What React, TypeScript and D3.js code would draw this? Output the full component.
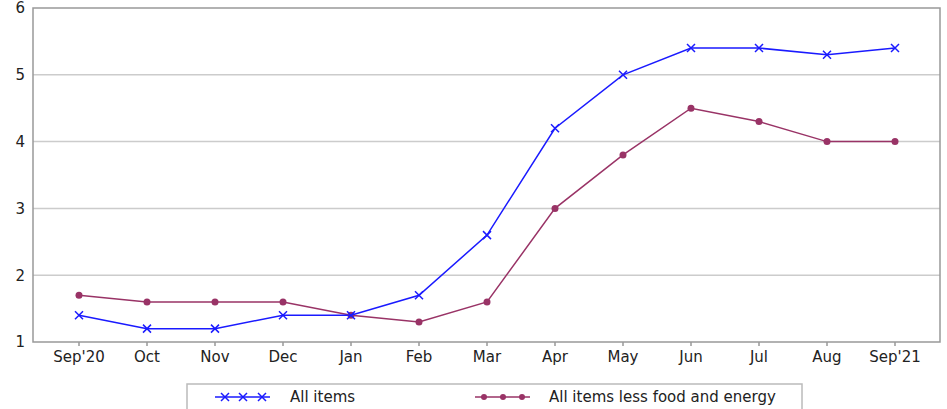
import { useEffect, useRef } from "react";
import { select, scaleLinear, scalePoint, line } from "d3";

const months = ["Sep'20", "Oct", "Nov", "Dec", "Jan", "Feb", "Mar", "Apr", "May", "Jun", "Jul", "Aug", "Sep'21"];
const allItems = [1.4, 1.2, 1.2, 1.4, 1.4, 1.7, 2.6, 4.2, 5.0, 5.4, 5.4, 5.3, 5.4];
const coreItems = [1.7, 1.6, 1.6, 1.6, 1.4, 1.3, 1.6, 3.0, 3.8, 4.5, 4.3, 4.0, 4.0];
const yTicks = [1, 2, 3, 4, 5, 6];

const BLUE = "#1a1aff";
const MAROON = "#993366";
const FONT = "'DejaVu Sans', Verdana, sans-serif";

const draw = (ref: SVGSVGElement) => {
  const svg = select(ref);
  svg.selectAll("*").remove();

  const m = { l: 33, r: 940, t: 8, b: 342 };
  const x = scalePoint<string>().domain(months).range([79, 895]);
  const y = scaleLinear().domain([1, 6]).range([m.b, m.t]);

  const g = svg.append("g").style("font-family", FONT);

  // grid
  g.selectAll("line.grid")
    .data(yTicks.filter((d) => d > 1 && d < 6))
    .join("line")
    .attr("x1", m.l)
    .attr("x2", m.r)
    .attr("y1", (d) => y(d))
    .attr("y2", (d) => y(d))
    .attr("stroke", "#cccccc")
    .attr("stroke-width", 1.5);

  // frame
  g.append("rect")
    .attr("x", m.l)
    .attr("y", m.t)
    .attr("width", m.r - m.l)
    .attr("height", m.b - m.t)
    .attr("fill", "none")
    .attr("stroke", "#999999")
    .attr("stroke-width", 1.5);

  // y labels
  g.selectAll("text.y")
    .data(yTicks)
    .join("text")
    .attr("x", 25)
    .attr("y", (d) => y(d))
    .attr("dy", "0.36em")
    .attr("text-anchor", "end")
    .attr("font-size", 15)
    .attr("fill", "#222")
    .text((d) => d);

  // x ticks
  g.selectAll("line.xt")
    .data(months)
    .join("line")
    .attr("x1", (d) => x(d)!)
    .attr("x2", (d) => x(d)!)
    .attr("y1", m.b)
    .attr("y2", m.b + 4)
    .attr("stroke", "#999999")
    .attr("stroke-width", 1.5);

  g.selectAll("text.x")
    .data(months)
    .join("text")
    .attr("x", (d) => x(d)!)
    .attr("y", 362)
    .attr("text-anchor", "middle")
    .attr("font-size", 15)
    .attr("fill", "#222")
    .text((d) => d);

  const mk = line<number>()
    .x((_, i) => x(months[i])!)
    .y((d) => y(d));

  const cross = (sel: any, cx: (d: any, i: number) => number, cy: (d: any, i: number) => number, s = 4) => {
    sel
      .append("path")
      .attr("d", (d: any, i: number) => {
        const px = cx(d, i);
        const py = cy(d, i);
        return `M${px - s},${py - s}L${px + s},${py + s}M${px - s},${py + s}L${px + s},${py - s}`;
      })
      .attr("stroke", BLUE)
      .attr("stroke-width", 1.5)
      .attr("fill", "none");
  };

  // core series
  g.append("path")
    .datum(coreItems)
    .attr("d", mk)
    .attr("fill", "none")
    .attr("stroke", MAROON)
    .attr("stroke-width", 1.5);
  g.selectAll("circle.core")
    .data(coreItems)
    .join("circle")
    .attr("cx", (_, i) => x(months[i])!)
    .attr("cy", (d) => y(d))
    .attr("r", 3.5)
    .attr("fill", MAROON);

  // all items series
  g.append("path")
    .datum(allItems)
    .attr("d", mk)
    .attr("fill", "none")
    .attr("stroke", BLUE)
    .attr("stroke-width", 1.5);
  const crosses = g.append("g").selectAll("g").data(allItems).join("g");
  cross(crosses, (_, i) => x(months[i])!, (d) => y(d));

  // legend
  const lg = g.append("g");
  lg.append("rect")
    .attr("x", 187)
    .attr("y", 384)
    .attr("width", 615)
    .attr("height", 40)
    .attr("fill", "white")
    .attr("stroke", "#bbbbbb")
    .attr("stroke-width", 1.5);

  const ly = 397;
  lg.append("line").attr("x1", 215).attr("x2", 270).attr("y1", ly).attr("y2", ly).attr("stroke", BLUE).attr("stroke-width", 1.5);
  const lc = lg.append("g").selectAll("g").data([225, 243, 262]).join("g");
  cross(lc, (d) => d, () => ly);
  lg.append("text").attr("x", 290).attr("y", ly).attr("dy", "0.36em").attr("font-size", 15).attr("fill", "#222").text("All items");

  lg.append("line").attr("x1", 475).attr("x2", 530).attr("y1", ly).attr("y2", ly).attr("stroke", MAROON).attr("stroke-width", 1.5);
  lg.selectAll("circle.lc")
    .data([484, 503, 522])
    .join("circle")
    .attr("cx", (d) => d)
    .attr("cy", ly)
    .attr("r", 3)
    .attr("fill", MAROON);
  lg.append("text").attr("x", 549).attr("y", ly).attr("dy", "0.36em").attr("font-size", 15).attr("fill", "#222").text("All items less food and energy");
};

export default function App() {
  const ref = useRef<SVGSVGElement>(null);
  useEffect(() => {
    if (ref.current) draw(ref.current);
  }, []);
  return (
    <svg
      ref={ref}
      width={947}
      height={409}
      style={{ position: "absolute", left: 0, top: 0, background: "white" }}
    />
  );
}
